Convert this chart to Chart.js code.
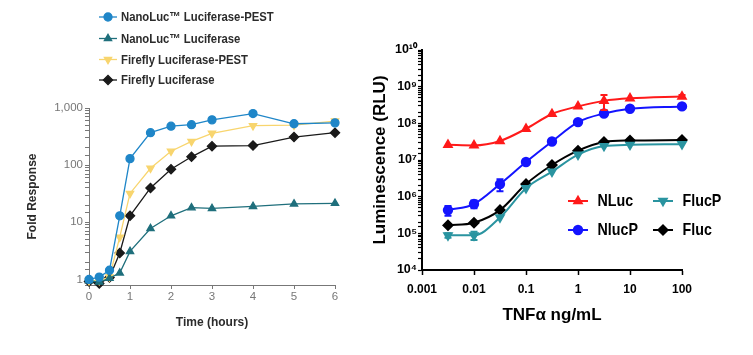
<!DOCTYPE html>
<html>
<head>
<meta charset="utf-8">
<script src="https://cdn.jsdelivr.net/npm/chart.js@4.4.0/dist/chart.umd.min.js"></script>
<style>
  html, body { margin: 0; padding: 0; background: #ffffff; }
  #wrap { position: relative; width: 753px; height: 355px; overflow: hidden; background: #fff; }
  #leftBox { position: absolute; left: 0; top: 0; width: 370px; height: 355px; }
  #rightBox { position: absolute; left: 370px; top: 0; width: 383px; height: 355px; }
</style>
</head>
<body>
<div id="wrap">
  <div id="leftBox"><canvas id="left"></canvas></div>
  <div id="rightBox"><canvas id="right"></canvas></div>
</div>
<script>
// ---------- Left panel data: fold response vs time ----------
const timeHours   = [0, 0.25, 0.5, 0.75, 1, 1.5, 2, 2.5, 3, 4, 5, 6];
const nanoLucPest = [1.0, 1.1, 1.45, 13, 130, 370, 480, 510, 620, 800, 530, 550];
const nanoLuc     = [0.95, 0.9, 1.05, 1.3, 3.1, 7.8, 13, 18, 17.5, 19, 21, 21.5];
const fireflyPest = [0.95, 0.95, 1.1, 5.5, 32, 88, 175, 260, 360, 490, 500, 590];
const firefly     = [0.92, 0.85, 1.08, 2.9, 13, 40, 85, 140, 215, 220, 310, 370];
const leftSeriesNames = ['NanoLuc\u2122 Luciferase-PEST', 'NanoLuc\u2122 Luciferase', 'Firefly Luciferase-PEST', 'Firefly Luciferase'];
const foldTickLabels = [1, 10, 100, 1000];
const timeTicks = [0, 1, 2, 3, 4, 5, 6];

// ---------- Right panel data: luminescence vs TNFa dose ----------
const tnfDose = [0.00316, 0.01, 0.0316, 0.1, 0.316, 1, 3.16, 10, 100];
const nluc    = [2.6e7, 2.5e7, 3.3e7, 7.1e7, 1.8e8, 2.9e8, 4.1e8, 4.8e8, 5.4e8];
const nlucP   = [4.3e5, 6.3e5, 2.2e6, 8.8e6, 3.2e7, 1.08e8, 1.86e8, 2.5e8, 2.9e8];
const flucP   = [8.8e4, 8.8e4, 2.7e5, 1.7e6, 4.8e6, 1.4e7, 2.4e7, 2.6e7, 2.7e7];
const fluc    = [1.65e5, 1.95e5, 4.3e5, 2.2e6, 7.3e6, 1.8e7, 3.1e7, 3.4e7, 3.5e7];
const nlucErr  = [0, 0, 0, 0, 0, 0, 1.8e8, 0, 5e7];
const nlucPErr = [1.3e5, 1.5e5, 8e5, 1e6, 0, 0, 0, 0, 0];
const flucPErr = [1.2e4, 2.2e4, 0, 0, 0, 0, 0, 0, 0];
const flucErr  = [0, 0, 0, 0, 0, 0, 0, 0, 0];
const rightSeriesNames = ['NLuc', 'NlucP', 'FlucP', 'Fluc'];
const doseTicks = [0.001, 0.01, 0.1, 1, 10, 100];
const rluTickMin = 1e4, rluTickMax = 1e10;

const SANS = '"Liberation Sans", Arial, sans-serif';

function toXY(xs, ys) { return xs.map((x, i) => ({ x: x, y: ys[i] })); }

const sup = { '0': '\u2070', '1': '\u00B9', '2': '\u00B2', '3': '\u00B3', '4': '\u2074', '5': '\u2075', '6': '\u2076', '7': '\u2077', '8': '\u2078', '9': '\u2079', '-': '\u207B' };
function powLabel(v) {
  const e = Math.round(Math.log10(v));
  return '10' + String(e).split('').map(c => sup[c]).join('');
}
function isPow10(v) { const l = Math.log10(v); return Math.abs(l - Math.round(l)) < 1e-9; }

// Legend drawn inside canvas at fixed spots (text horizontally condensed)
const manualLegend = {
  id: 'manualLegend',
  afterDraw(chart, args, opts) {
    const ctx = chart.ctx;
    ctx.save();
    opts.items.forEach(it => {
      const ds = chart.data.datasets[it.index];
      ctx.strokeStyle = ds.borderColor;
      ctx.lineWidth = opts.lineWidth;
      ctx.beginPath();
      ctx.moveTo(it.x, it.y);
      ctx.lineTo(it.x + opts.lineLen, it.y);
      ctx.stroke();
      ctx.fillStyle = ds.pointBackgroundColor;
      ctx.strokeStyle = ds.pointBorderColor;
      Chart.helpers.drawPoint(ctx, {
        pointStyle: ds.pointStyle,
        rotation: ds.pointRotation || 0,
        radius: ds.pointRadius,
        borderWidth: 1
      }, it.x + opts.lineLen / 2, it.y);
      ctx.save();
      ctx.font = opts.font;
      ctx.textBaseline = 'middle';
      ctx.textAlign = 'left';
      ctx.fillStyle = opts.color;
      ctx.translate(it.x + opts.lineLen + opts.gap, it.y + 0.5);
      ctx.scale(opts.scaleX, 1);
      ctx.fillText(ds.label, 0, 0);
      ctx.restore();
    });
    ctx.restore();
  }
};

// Error bars from the error arrays, via the y scale
const errorBars = {
  id: 'errorBars',
  afterDatasetsDraw(chart) {
    const ctx = chart.ctx;
    const ys = chart.scales.y;
    ctx.save();
    chart.data.datasets.forEach((ds, i) => {
      if (!ds.errors) return;
      const meta = chart.getDatasetMeta(i);
      meta.data.forEach((pt, j) => {
        const e = ds.errors[j];
        if (!e) return;
        const v = ds.data[j].y;
        const yTop = ys.getPixelForValue(v + e);
        const yBot = ys.getPixelForValue(Math.max(v - e, v * 0.2));
        ctx.strokeStyle = ds.borderColor;
        ctx.lineWidth = 2;
        ctx.beginPath();
        ctx.moveTo(pt.x, yTop); ctx.lineTo(pt.x, yBot);
        ctx.moveTo(pt.x - 3.5, yTop); ctx.lineTo(pt.x + 3.5, yTop);
        ctx.moveTo(pt.x - 3.5, yBot); ctx.lineTo(pt.x + 3.5, yBot);
        ctx.stroke();
      });
    });
    ctx.restore();
  }
};

// ---------------- LEFT CHART ----------------
const lBlue = '#1f86c8', lTeal = '#1f6f7c', lYellow = '#f8d56e', lBlack = '#1a1a1a';
function leftDs(label, ys, color, style, rot, r) {
  return {
    label: label, data: toXY(timeHours, ys),
    borderColor: color, backgroundColor: color,
    pointBackgroundColor: color, pointBorderColor: color,
    pointStyle: style, pointRotation: rot, pointRadius: r, pointHoverRadius: r,
    borderWidth: 1.3, tension: 0, clip: false
  };
}
new Chart(document.getElementById('left'), {
  type: 'line',
  data: {
    datasets: [
      leftDs(leftSeriesNames[0], nanoLucPest, lBlue, 'circle', 0, 4),
      leftDs(leftSeriesNames[1], nanoLuc, lTeal, 'triangle', 0, 4.2),
      leftDs(leftSeriesNames[2], fireflyPest, lYellow, 'triangle', 180, 4.2),
      leftDs(leftSeriesNames[3], firefly, lBlack, 'rectRot', 0, 4.6)
    ]
  },
  options: {
    responsive: true, maintainAspectRatio: false, animation: false,
    layout: { padding: { left: 0, right: 35, top: 108, bottom: 20 } },
    plugins: {
      legend: { display: false }, tooltip: { enabled: false },
      manualLegend: {
        font: 'bold 13px ' + SANS, color: '#2b2b2b', lineWidth: 1.3, lineLen: 18, gap: 4, scaleX: 0.87,
        items: [
          { index: 0, x: 99, y: 17 },
          { index: 1, x: 99, y: 38.5 },
          { index: 2, x: 99, y: 59.5 },
          { index: 3, x: 99, y: 80 }
        ]
      }
    },
    scales: {
      x: {
        type: 'linear', min: 0, max: 6,
        afterFit(s) { s.height = 50; },
        afterBuildTicks(s) { s.ticks = timeTicks.map(v => ({ value: v })); },
        ticks: { color: '#777', font: { family: SANS, size: 11.5 }, padding: 1, autoSkip: false, maxRotation: 0 },
        grid: { display: true, drawOnChartArea: false, drawTicks: true, tickLength: 4, tickColor: '#777' },
        border: { display: true, color: '#777', width: 1 },
        title: { display: true, text: 'Time (hours)', color: '#2b2b2b', font: { family: SANS, size: 12, weight: 'bold' }, padding: { top: 0, bottom: 5 } }
      },
      y: {
        type: 'logarithmic', min: 0.8, max: 1000,
        afterFit(s) { s.width = 89; },
        ticks: {
          color: '#777', font: { family: SANS, size: 11.5 }, padding: 2, autoSkip: false,
          callback(v) { return foldTickLabels.some(t => Math.abs(t - v) < 1e-9) ? Number(v).toLocaleString('en-US') : ''; }
        },
        grid: { display: true, drawOnChartArea: false, drawTicks: true, tickLength: 4, tickColor: '#777' },
        border: { display: true, color: '#777', width: 1 },
        title: { display: true, text: 'Fold Response', color: '#2b2b2b', font: { family: SANS, size: 12, weight: 'bold' }, padding: { top: 25, bottom: 0 } }
      }
    }
  },
  plugins: [manualLegend]
});

// ---------------- RIGHT CHART ----------------
const rRed = '#ff1a1a', rBlue = '#1414ff', rTeal = '#2a94a0', rBlack = '#000000';
function rightDs(label, ys, errs, color, style, rot, r) {
  return {
    label: label, data: toXY(tnfDose, ys), errors: errs,
    borderColor: color, backgroundColor: color,
    pointBackgroundColor: color, pointBorderColor: color,
    pointStyle: style, pointRotation: rot, pointRadius: r, pointHoverRadius: r,
    borderWidth: 2, cubicInterpolationMode: 'monotone', clip: false
  };
}
new Chart(document.getElementById('right'), {
  type: 'line',
  data: {
    datasets: [
      rightDs(rightSeriesNames[0], nluc, nlucErr, rRed, 'triangle', 0, 4.3),
      rightDs(rightSeriesNames[1], nlucP, nlucPErr, rBlue, 'circle', 0, 4.2),
      rightDs(rightSeriesNames[2], flucP, flucPErr, rTeal, 'triangle', 180, 4.3),
      rightDs(rightSeriesNames[3], fluc, flucErr, rBlack, 'rectRot', 0, 4.6)
    ]
  },
  options: {
    responsive: true, maintainAspectRatio: false, animation: false,
    layout: { padding: { left: 0, right: 71, top: 50, bottom: 0 } },
    plugins: {
      legend: { display: false }, tooltip: { enabled: false },
      manualLegend: {
        font: 'bold 17px ' + SANS, color: '#000', lineWidth: 2, lineLen: 20, gap: 9.5, scaleX: 0.84,
        items: [
          { index: 0, x: 198, y: 201 },
          { index: 1, x: 198, y: 230 },
          { index: 2, x: 283, y: 201 },
          { index: 3, x: 283, y: 230 }
        ]
      }
    },
    scales: {
      x: {
        type: 'logarithmic', min: 0.001, max: 100,
        afterFit(s) { s.height = 85; },
        afterBuildTicks(s) { s.ticks = doseTicks.map(v => ({ value: v })); },
        ticks: {
          color: '#000', font: { family: SANS, size: 12, weight: 'bold' }, padding: 7, autoSkip: false, maxRotation: 0,
          callback(v) { return String(v); }
        },
        grid: { display: true, drawOnChartArea: false, drawTicks: true, tickLength: 5, tickColor: '#000', tickWidth: 1.5 },
        border: { display: true, color: '#000', width: 2 },
        title: { display: true, text: 'TNF\u03B1 ng/mL', color: '#000', font: { family: SANS, size: 17, weight: 'bold' }, padding: { top: 0, bottom: 29 } }
      },
      y: {
        type: 'logarithmic', min: rluTickMin, max: rluTickMax,
        afterFit(s) { s.width = 52; },
        ticks: {
          color: '#000', font: { family: SANS, size: 12.5, weight: 'bold' }, padding: 1, autoSkip: false,
          callback(v) { return isPow10(v) ? powLabel(v) : ''; }
        },
        grid: { display: true, drawOnChartArea: false, drawTicks: true, tickLength: 4, tickColor: '#000', tickWidth: 1.2 },
        border: { display: true, color: '#000', width: 2 },
        title: { display: true, text: 'Luminescence (RLU)', color: '#000', font: { family: SANS, size: 17, weight: 'bold' }, padding: { top: 0, bottom: 0 } }
      }
    }
  },
  plugins: [errorBars, manualLegend]
});
</script>
</body>
</html>
